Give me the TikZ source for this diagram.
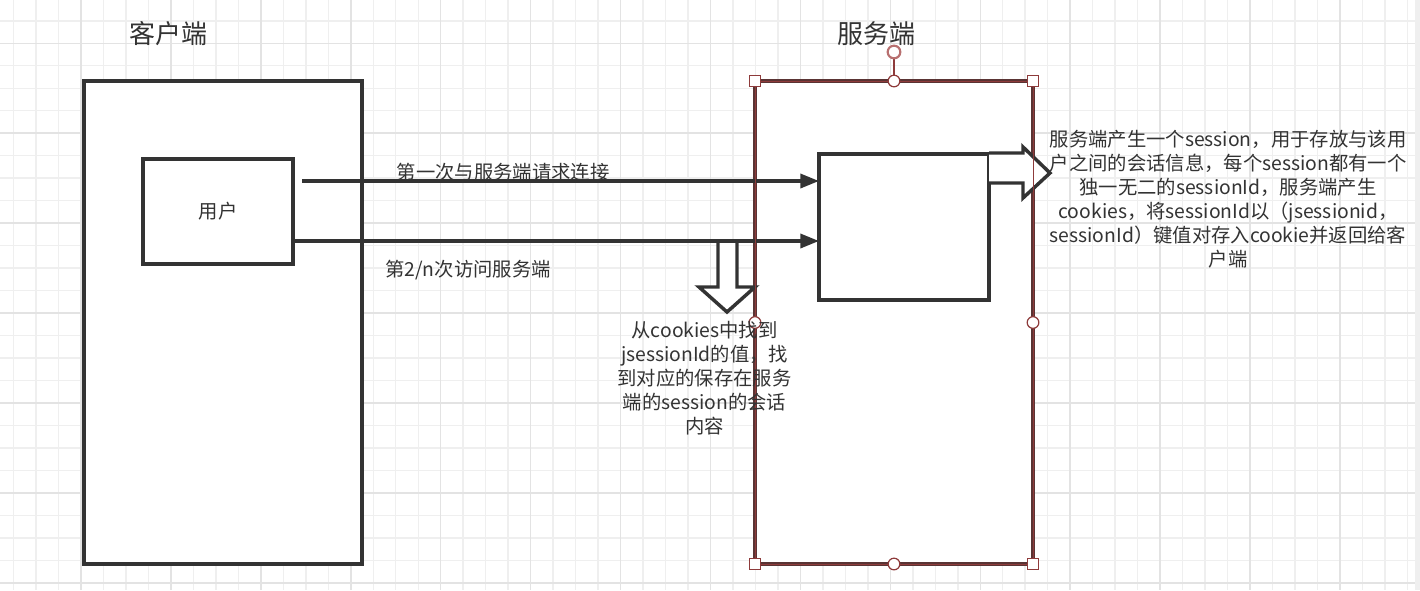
\documentclass[tikz,border=0pt]{standalone}
\usepackage{fontspec}
\setmainfont{Noto Sans CJK SC}
\usetikzlibrary{arrows.meta}
\definecolor{ink}{HTML}{333333}
\definecolor{gridminor}{HTML}{EFEFEF}
\definecolor{gridmajor}{HTML}{E3E3E3}
\definecolor{sel}{HTML}{8E3B3B}
\definecolor{seledge}{HTML}{5A3434}
\definecolor{selrot}{HTML}{B87070}
\definecolor{scrollbar}{HTML}{EFEFEF}
\begin{document}
\begin{tikzpicture}[x=0.75pt,y=-0.75pt,
  box/.style={draw=ink, line width=2.6pt, fill=white, inner sep=0pt, outer sep=0pt},
  lbl/.style={text=ink, font=\fontsize{14.5pt}{18pt}\selectfont, inner sep=0pt, align=center},
  title/.style={text=ink, font=\fontsize{19.5pt}{24pt}\selectfont, inner sep=0pt},
  conn/.style={draw=ink, line width=2.6pt, -{Triangle[length=14pt,width=10.5pt]}},
  blockarrow/.style={draw=ink, line width=2.6pt, fill=white, line join=miter},
  selsquare/.style={draw=sel, fill=white, line width=0.9pt, inner sep=0pt, minimum size=8.5pt, rectangle},
  selcircle/.style={draw=sel, fill=white, line width=0.9pt, inner sep=0pt, minimum size=8.75pt, circle},
]
\useasboundingbox (0,0) rectangle (1420,590);
\fill[white] (0,0) rectangle (1420,590);
% grid
\foreach \k in {0,...,62} {
  \pgfmathsetmacro\xx{13.6+22.48*\k}
  \draw[gridminor, line width=1.1pt] (\xx,0) -- (\xx,590);
}
\foreach \k in {0,...,25} {
  \pgfmathsetmacro\yy{20.8+22.48*\k}
  \draw[gridminor, line width=1.1pt] (0,\yy) -- (1420,\yy);
}
\foreach \k in {0,...,14} {
  \pgfmathsetmacro\xx{81.04+89.92*\k}
  \draw[gridmajor, line width=1.1pt] (\xx,0) -- (\xx,590);
}
\foreach \k in {0,...,6} {
  \pgfmathsetmacro\yy{43.28+89.92*\k}
  \draw[gridmajor, line width=1.1pt] (0,\yy) -- (1420,\yy);
}
\fill[scrollbar] (1415,0) rectangle (1420,590);

% titles
\node[title] (tclient) at (168,34) {客户端};
\node[title] (tserver) at (876,34) {服务端};

% boxes
\node[box, minimum width=208.5pt, minimum height=362.25pt] (client) at (223,322.5) {};
\node[box, minimum width=112.5pt, minimum height=78.75pt, text=ink, font=\fontsize{14.5pt}{18pt}\selectfont] (user) at (218,211.5) {用户};
\node[box, draw=seledge, minimum width=208.5pt, minimum height=362.25pt] (server) at (894,322.5) {};
\node[box, minimum width=127.5pt, minimum height=109.5pt] (inner) at (904,227) {};

% block arrows
\draw[blockarrow] (718,241) -- (718,287) -- (699,287) -- (727,312) -- (755,287) -- (737,287) -- (737,241) -- cycle;
\draw[blockarrow] (inner.east |- 0,153) -- (1023,153) -- (1023,147) -- (1050,173) -- (1023,198) -- (1023,183) -- (inner.east |- 0,183);

% connectors
\coordinate (s1) at (302,181);
\coordinate (s2) at (293,241);
\draw[conn] (s1) -- (s1 -| inner.west);
\draw[conn] (s2) -- (s2 -| inner.west);

% selection overlay
\draw[sel, line width=0.6pt] (server.north west) rectangle (server.south east);
\draw[sel, line width=1pt] (server.north) -- (894,52);
\node[circle, draw=selrot, fill=white, line width=1.6pt, inner sep=0pt, minimum size=9.5pt] (rot) at (894,52) {};
\node[selsquare] (hnw) at (server.north west) {};
\node[selsquare] (hne) at (server.north east) {};
\node[selsquare] (hsw) at (server.south west) {};
\node[selsquare] (hse) at (server.south east) {};
\node[selcircle] (hn) at (server.north) {};
\node[selcircle] (hs) at (server.south) {};
\node[selcircle] (hw) at (server.west) {};
\node[selcircle] (he) at (server.east) {};

% labels
\node[lbl] (l1) at (503,172) {第一次与服务端请求连接};
\node[lbl] (l2) at (468,270) {第2/n次访问服务端};
\node[lbl] (tdown) at (704.5,378.5) {从cookies中找到\\jsessionId的值，找\\到对应的保存在服务\\端的session的会话\\内容};
\node[lbl] (tright) at (1228,199) {服务端产生一个session，用于存放与该用\\户之间的会话信息，每个session都有一个\\独一无二的sessionId，服务端产生\\cookies，将sessionId以（jsessionid，\\sessionId）键值对存入cookie并返回给客\\户端};
\end{tikzpicture}
\end{document}
